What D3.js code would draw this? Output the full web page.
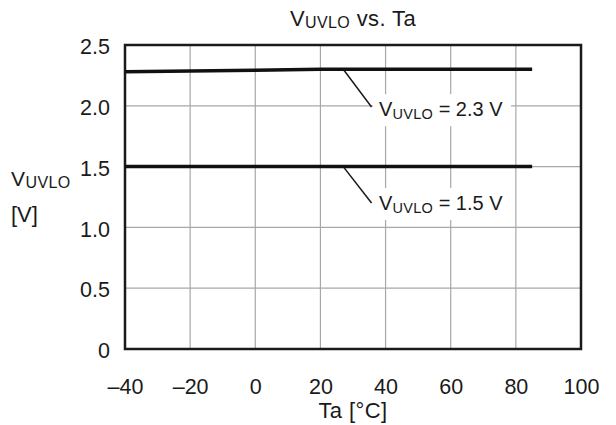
<!DOCTYPE html>
<html><head><meta charset="utf-8">
<script src="https://cdn.jsdelivr.net/npm/d3@7"></script>
<style>
html,body{margin:0;padding:0;background:#fff;}
text{font-family:"Liberation Sans",Arial,sans-serif;fill:#1a1a1a;}
</style></head>
<body><svg id="c" width="616" height="425"></svg>
<script>
// Data
const xTicks = [-40, -20, 0, 20, 40, 60, 80, 100];
const yTicks = [0, 0.5, 1.0, 1.5, 2.0, 2.5];
const yTickLabels = ["0", "0.5", "1.0", "1.5", "2.0", "2.5"];
const ta = [-40, 0, 20, 85];
const vHigh = [2.28, 2.293, 2.30, 2.30];
const vLow = [1.50, 1.50, 1.50, 1.50];
const annotations = [
  {value: "2.3 V", ax: 27, ay: 2.30, bx: 35.7, by: 1.99, tx: 38, ty: 1.915},
  {value: "1.5 V", ax: 27, ay: 1.50, bx: 35.7, by: 1.20, tx: 38, ty: 1.143}
];

const svg = d3.select("#c");
const m = {l: 125, r: 581, t: 45, b: 349};
const x = d3.scaleLinear().domain([-40, 100]).range([m.l, m.r]);
const y = d3.scaleLinear().domain([0, 2.5]).range([m.b, m.t]);

// grid
const g = svg.append("g");
g.selectAll(".vg").data(xTicks.slice(1, -1)).enter().append("line")
  .attr("x1", d => x(d)).attr("x2", d => x(d)).attr("y1", m.t).attr("y2", m.b)
  .attr("stroke", "#a8a8a8").attr("stroke-width", 1.2);
g.selectAll(".hg").data(yTicks.slice(1, -1)).enter().append("line")
  .attr("x1", m.l).attr("x2", m.r).attr("y1", d => y(d)).attr("y2", d => y(d))
  .attr("stroke", "#a8a8a8").attr("stroke-width", 1.2);

// axes
const xAxis = d3.axisBottom(x).tickValues(xTicks).tickSize(0).tickPadding(0)
  .tickFormat(d => d < 0 ? "\u2013" + Math.abs(d) : String(d));
const xa = svg.append("g").attr("transform", `translate(0,${m.b})`).call(xAxis);
xa.select(".domain").remove();
xa.selectAll("text").attr("font-size", 21.5).attr("y", 45).attr("dy", 0)
  .attr("font-family", "Liberation Sans, Arial, sans-serif").attr("fill", "#1a1a1a");

const yAxis = d3.axisLeft(y).tickValues(yTicks).tickSize(0).tickPadding(0)
  .tickFormat((d, i) => yTickLabels[i]);
const ya = svg.append("g").attr("transform", `translate(${m.l},0)`).call(yAxis);
ya.select(".domain").remove();
ya.selectAll("text").attr("font-size", 21.5).attr("x", -15).attr("dy", "0.4em")
  .attr("font-family", "Liberation Sans, Arial, sans-serif").attr("fill", "#1a1a1a");

// frame
svg.append("rect").attr("x", m.l).attr("y", m.t).attr("width", m.r - m.l).attr("height", m.b - m.t)
  .attr("fill", "none").attr("stroke", "#1a1a1a").attr("stroke-width", 2.5);

// annotation backgrounds, leaders, labels
annotations.forEach(a => {
  svg.append("rect").attr("x", x(a.tx) - 6).attr("y", y(a.ty) - 22)
    .attr("width", 138).attr("height", 32).attr("fill", "#fff");
  svg.append("line").attr("x1", x(a.ax)).attr("y1", y(a.ay)).attr("x2", x(a.bx)).attr("y2", y(a.by))
    .attr("stroke", "#1a1a1a").attr("stroke-width", 1.5);
  const t = svg.append("text").attr("x", x(a.tx)).attr("y", y(a.ty)).attr("font-size", 20);
  t.append("tspan").text("V");
  t.append("tspan").text("UVLO").attr("font-size", 14.5).attr("dy", 3).attr("letter-spacing", 0.3);
  t.append("tspan").text(" = " + a.value).attr("dy", -3);
});

// data lines
const line = d3.line().x(d => x(d[0])).y(d => y(d[1]));
[vHigh, vLow].forEach(s => {
  svg.append("path").datum(ta.map((t, i) => [t, s[i]])).attr("d", line)
    .attr("fill", "none").attr("stroke", "#111").attr("stroke-width", 3.5);
});

// title
const title = svg.append("text").attr("x", (m.l + m.r) / 2).attr("y", 26)
  .attr("text-anchor", "middle").attr("font-size", 22).attr("letter-spacing", 0.4);
title.append("tspan").text("V");
title.append("tspan").text("UVLO").attr("font-size", 16).attr("dy", 2);
title.append("tspan").text(" vs. Ta").attr("dy", -2);

// y title
const yt = svg.append("text").attr("x", 11).attr("y", 186).attr("font-size", 21).attr("letter-spacing", 0.4);
yt.append("tspan").text("V");
yt.append("tspan").text("UVLO").attr("font-size", 16).attr("dy", 2);
svg.append("text").attr("x", 11).attr("y", 222).attr("font-size", 22).text("[V]");

// x title
svg.append("text").attr("x", (m.l + m.r) / 2).attr("y", 418).attr("text-anchor", "middle")
  .attr("font-size", 22).attr("letter-spacing", 0.4).text("Ta [\u00B0C]");
</script></body></html>
